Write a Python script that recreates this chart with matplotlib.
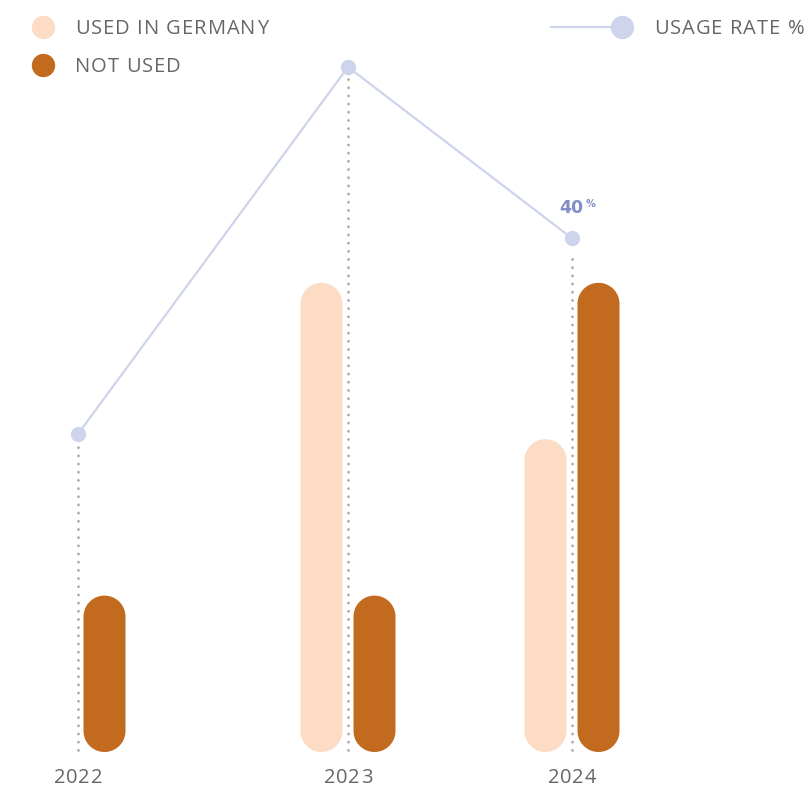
import matplotlib
matplotlib.use("Agg")
import numpy as np
import matplotlib.pyplot as plt
from matplotlib.patches import PathPatch
from matplotlib.path import Path
from matplotlib.lines import Line2D
from matplotlib.transforms import IdentityTransform, Affine2D, blended_transform_factory

plt.rcParams['font.family'] = ['Open Sans', 'DejaVu Sans']

# data
years = ['2022', '2023', '2024']
used = [0, 3, 2]
not_used = [1, 1, 3]
usage_rate = [0, 75, 40]

# the original places the years unevenly along x
x_pos = [0.0, 1.0, 494 / 270]

c_used = '#fcdcc4'
c_not = '#c26b1e'
c_line = '#cdd4ec'
c_text = '#666666'
c_label = '#7f8ec6'

W, H = 811, 787
fig = plt.figure(figsize=(W / 100, H / 100), dpi=100)
ax = fig.add_axes([0, 35 / H, 1, 712 / H])
ax.set_xlim(-78 / 270, 733 / 270)
ax.set_ylim(0, 712 / 156.4)
ax.set_autoscale_on(False)

ax2 = ax.twinx()
ax2.set_ylim(-318 / 4.893, (712 - 318) / 4.893)
ax2.set_autoscale_on(False)

bw = 42 / 270
off = 26.5 / 270


def pill_path(x0, y0, x1, y1):
    # rectangle with fully rounded top and bottom, in pixels
    r = (x1 - x0) / 2
    cx = (x0 + x1) / 2
    t = np.linspace(0, np.pi, 40)
    top = np.column_stack([cx + r * np.cos(t), y1 - r + r * np.sin(t)])
    bot = np.column_stack([cx - r * np.cos(t), y0 + r - r * np.sin(t)])
    verts = np.vstack([top, bot, top[:1]])
    codes = [Path.MOVETO] + [Path.LINETO] * (len(verts) - 2) + [Path.CLOSEPOLY]
    return Path(verts, codes)


def rounded_bars(xs, vals, color):
    bars = ax.bar(xs, vals, width=bw, color=color)
    for rect in bars:
        rect.set_visible(False)
        if rect.get_height() <= 0:
            continue
        x0, y0 = ax.transData.transform((rect.get_x(), rect.get_y()))
        x1, y1 = ax.transData.transform((rect.get_x() + rect.get_width(),
                                         rect.get_y() + rect.get_height()))
        p = PathPatch(pill_path(x0, y0, x1, y1), transform=IdentityTransform(),
                      facecolor=color, edgecolor='none', zorder=2)
        ax.add_artist(p)


rounded_bars([x - off for x in x_pos], used, c_used)
rounded_bars([x + off for x in x_pos], not_used, c_not)

# dotted guides from the point down to the base
ymin = ax2.get_ylim()[0]
for x, r in zip(x_pos, usage_rate):
    ax2.plot([x, x], [ymin + 0.5, r - 2.5], color='#a8a8a8', lw=1.9,
             linestyle=(0, (0.1, 3.0)), dash_capstyle='round', zorder=1)

ax2.plot(x_pos, usage_rate, color=c_line, lw=1.6, marker='o', ms=10,
         markerfacecolor=c_line, markeredgecolor=c_line, zorder=3, clip_on=False)

# value label on the last point
ax2.annotate(f'{usage_rate[2]}', (x_pos[2], usage_rate[2]), xytext=(8.3, 21.5),
             textcoords='offset points', ha='right', va='center', fontsize=12.5,
             fontweight='bold', color=c_label, family='DejaVu Sans')
ax2.annotate('%', (x_pos[2], usage_rate[2]), xytext=(9.5, 24.5), textcoords='offset points',
             ha='left', va='center', fontsize=7, fontweight='bold', color=c_label,
             family='DejaVu Sans')

ax.set_xticks(x_pos, [])
ax.tick_params(axis='x', length=0)
ax.set_yticks([])
ax2.set_yticks([])
for a in (ax, ax2):
    for s in a.spines.values():
        s.set_visible(False)

renderer = fig.canvas.get_renderer()


def text_width(s, size):
    t = fig.text(0, 0, s, fontsize=size)
    w = t.get_window_extent(renderer).width
    t.remove()
    return w


def spaced_text(x, y, s, size, track, transform, ha='left'):
    # matplotlib has no letter spacing, so place the letters one by one
    bar_w = text_width('|', size)
    total = text_width(s + '|', size) - bar_w + track * (len(s) - 1)
    start = 0 if ha == 'left' else -total / 2
    for i, ch in enumerate(s):
        if ch == ' ':
            continue
        dx = start + text_width(s[:i] + '|', size) - bar_w + track * i
        fig.text(x, y, ch, fontsize=size, color=c_text, va='center', ha='left',
                 transform=transform + Affine2D().translate(dx, 0))


def fx(px):
    return px / W


def fy(py):
    return 1 - py / H


# year labels under each group
xt = blended_transform_factory(ax.transData, fig.transFigure)
for x, yr in zip(x_pos, years):
    spaced_text(x, fy(778), yr, 14.5, 0.8, xt, ha='center')

# legends
fig.add_artist(Line2D([fx(43)], [fy(27)], marker='o', ms=15.8, color=c_used, lw=0))
fig.add_artist(Line2D([fx(43)], [fy(65)], marker='o', ms=15.8, color=c_not, lw=0))
spaced_text(fx(75), fy(29), 'USED IN GERMANY', 14.5, 1.0, fig.transFigure)
spaced_text(fx(75), fy(67), 'NOT USED', 14.5, 1.0, fig.transFigure)

fig.add_artist(Line2D([fx(551), fx(620)], [fy(27), fy(27)], color=c_line, lw=1.6))
fig.add_artist(Line2D([fx(622)], [fy(27)], marker='o', ms=15.8, color=c_line, lw=0))
spaced_text(fx(654), fy(29), 'USAGE RATE %', 14.5, 1.0, fig.transFigure)

fig.savefig('out.png', dpi=100)
